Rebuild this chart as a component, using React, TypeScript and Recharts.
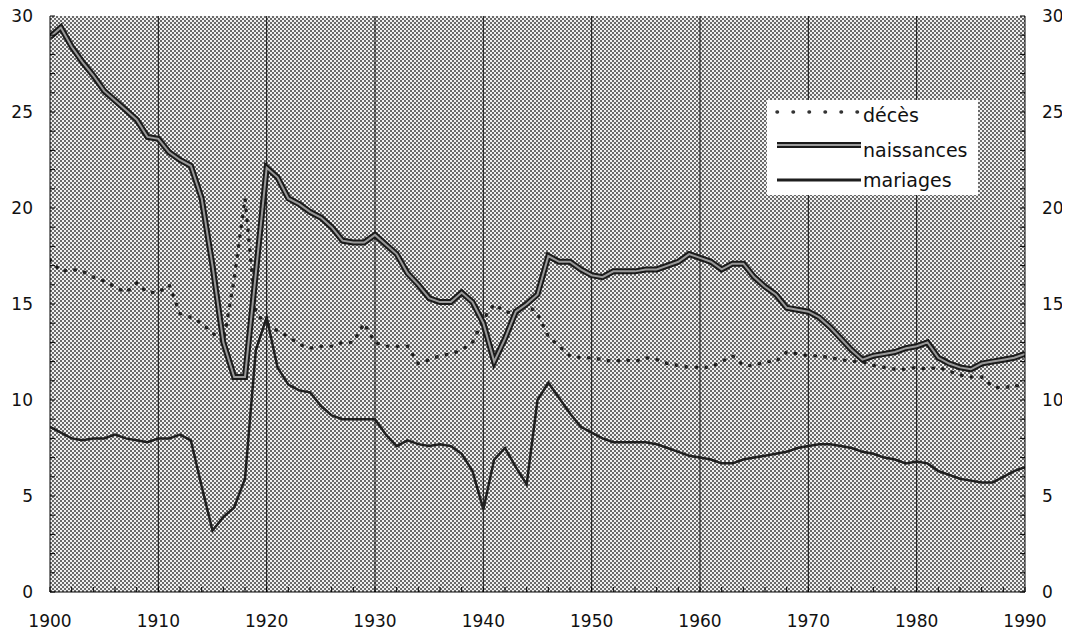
import React from 'react';
import { LineChart, Line, XAxis, YAxis, CartesianGrid, ReferenceLine, Legend } from 'recharts';

// years 1900..1990
const years = Array.from({ length: 91 }, (_, i) => 1900 + i);

// taux pour 1000 habitants
const naissances = [
  28.9, 29.4, 28.4, 27.6, 26.9, 26.1, 25.6, 25.1, 24.6, 23.7,
  23.6, 22.9, 22.5, 22.2, 20.5, 17.0, 13.0, 11.2, 11.2, 16.6,
  22.1, 21.6, 20.5, 20.2, 19.8, 19.5, 19.0, 18.3, 18.2, 18.2,
  18.6, 18.1, 17.6, 16.6, 16.0, 15.3, 15.1, 15.1, 15.6, 15.1,
  14.0, 12.0, 13.2, 14.6, 15.0, 15.5, 17.5, 17.2, 17.2, 16.8,
  16.5, 16.4, 16.7, 16.7, 16.7, 16.8, 16.8, 17.0, 17.2, 17.6,
  17.4, 17.2, 16.8, 17.1, 17.1, 16.4, 15.9, 15.5, 14.8, 14.7,
  14.6, 14.3, 13.8, 13.2, 12.6, 12.1, 12.3, 12.4, 12.5, 12.7,
  12.8, 13.0, 12.2, 11.9, 11.7, 11.6, 11.9, 12.0, 12.1, 12.2,
  12.4,
];

const deces = [
  17.3, 16.7, 16.8, 16.7, 16.4, 16.2, 15.9, 15.6, 16.1, 15.6,
  15.6, 16.0, 14.5, 14.3, 14.0, 13.5, 13.0, 16.3, 20.5, 14.5,
  14.0, 13.6, 13.3, 12.9, 12.7, 12.8, 12.8, 13.0, 13.0, 14.0,
  13.0, 12.8, 12.8, 12.8, 11.9, 12.1, 12.3, 12.4, 12.6, 13.0,
  14.2, 15.0, 14.6, 14.5, 15.0, 14.5, 13.3, 12.8, 12.3, 12.2,
  12.2, 12.1, 12.0, 12.1, 12.0, 12.2, 12.1, 11.9, 11.8, 11.7,
  11.7, 11.7, 12.0, 12.3, 11.8, 11.8, 12.0, 12.0, 12.5, 12.4,
  12.3, 12.3, 12.2, 12.1, 12.0, 12.0, 11.8, 11.7, 11.6, 11.6,
  11.7, 11.6, 11.7, 11.5, 11.3, 11.2, 11.2, 10.7, 10.6, 10.8,
  10.6,
];

const mariages = [
  8.6, 8.3, 8.0, 7.9, 8.0, 8.0, 8.2, 8.0, 7.9, 7.8,
  8.0, 8.0, 8.2, 7.9, 5.5, 3.2, 3.9, 4.4, 5.9, 12.6,
  14.3, 11.7, 10.8, 10.5, 10.4, 9.7, 9.2, 9.0, 9.0, 9.0,
  9.0, 8.2, 7.6, 7.9, 7.7, 7.6, 7.7, 7.6, 7.2, 6.3,
  4.3, 6.9, 7.5, 6.5, 5.6, 10.0, 10.9, 10.1, 9.3, 8.6,
  8.3, 8.0, 7.8, 7.8, 7.8, 7.8, 7.7, 7.5, 7.3, 7.1,
  7.0, 6.9, 6.7, 6.7, 6.9, 7.0, 7.1, 7.2, 7.3, 7.5,
  7.6, 7.7, 7.7, 7.6, 7.5, 7.3, 7.2, 7.0, 6.9, 6.7,
  6.8, 6.7, 6.3, 6.1, 5.9, 5.8, 5.7, 5.7, 6.0, 6.3,
  6.5,
];

const decades = [1910, 1920, 1930, 1940, 1950, 1960, 1970, 1980];
const yearTicks = Array.from({ length: 46 }, (_, i) => 1900 + i * 2);
const rateTicks = Array.from({ length: 31 }, (_, i) => i);
const legendNames = ['décès', 'naissances', 'mariages'];

const data = years.map((year, i) => ({
  year,
  deces: deces[i],
  naissances: naissances[i],
  mariages: mariages[i],
}));

const FONT = '"DejaVu Sans", sans-serif';
const tickStyle = { fontSize: 17, fill: '#111', fontFamily: FONT };
const yearLabel = (v: number) => (v % 10 === 0 ? String(v) : '');
const rateLabel = (v: number) => (v % 5 === 0 ? String(v) : '');

const LegendBox = () => (
  <svg width={211} height={95} style={{ display: 'block' }}>
    <rect x={0} y={0} width={211} height={95} fill="#fff" />
    <line x1={10} y1={12} x2={94} y2={12} stroke="#333" strokeWidth={3.5}
      strokeDasharray="0.5 15.5" strokeLinecap="round" />
    <line x1={10} y1={45} x2={94} y2={45} stroke="#1a1a1a" strokeWidth={6} />
    <line x1={10} y1={45} x2={94} y2={45} stroke="#9a9a9a" strokeWidth={2} />
    <line x1={10} y1={80} x2={94} y2={80} stroke="#1e1e1e" strokeWidth={3} />
    {legendNames.map((name, i) => (
      <text key={name} x={96} y={[22, 57, 87][i]} fontFamily={FONT} fontSize={19} fill="#111">
        {name}
      </text>
    ))}
  </svg>
);

export default function App() {
  return (
    <div style={{ width: 1062, height: 628, marginTop: -8 }}>
      <LineChart
        width={1062}
        height={636}
        data={data}
        margin={{ top: 16, right: 0, bottom: 0, left: 0 }}
        style={{ fontFamily: FONT }}
      >
        <defs>
          <pattern id="dither" width={4} height={4} patternUnits="userSpaceOnUse">
            <rect width={4} height={4} fill="#f0f0f0" />
            <rect x={0} y={0} width={2} height={2} fill="#6a6a6a" />
            <rect x={2} y={2} width={2} height={2} fill="#6a6a6a" />
          </pattern>
        </defs>
        <CartesianGrid horizontal={false} vertical={false} fill="url(#dither)" fillOpacity={1} />
        <XAxis
          dataKey="year"
          type="number"
          domain={[1900, 1990]}
          ticks={yearTicks}
          interval={0}
          tickFormatter={yearLabel}
          tick={tickStyle}
          tickSize={-5}
          tickMargin={28}
          height={44}
          axisLine={{ stroke: '#000' }}
          tickLine={{ stroke: '#000' }}
          allowDataOverflow
        />
        <XAxis
          xAxisId="top"
          orientation="top"
          dataKey="year"
          type="number"
          domain={[1900, 1990]}
          ticks={yearTicks}
          interval={0}
          tickFormatter={() => ''}
          tickSize={-5}
          height={0}
          axisLine={{ stroke: '#000' }}
          tickLine={{ stroke: '#000' }}
          allowDataOverflow
        />
        <YAxis
          yAxisId="left"
          type="number"
          domain={[0, 30]}
          ticks={rateTicks}
          interval={0}
          tickFormatter={rateLabel}
          tick={tickStyle}
          tickSize={-5}
          tickMargin={22}
          width={42}
          axisLine={{ stroke: '#000' }}
          tickLine={{ stroke: '#000' }}
          allowDataOverflow
        />
        <YAxis
          yAxisId="right"
          orientation="right"
          type="number"
          domain={[0, 30]}
          ticks={rateTicks}
          interval={0}
          tickFormatter={rateLabel}
          tick={tickStyle}
          tickSize={-5}
          tickMargin={22}
          width={45}
          axisLine={{ stroke: '#000' }}
          tickLine={{ stroke: '#000' }}
          allowDataOverflow
        />
        {decades.map((d) => (
          <ReferenceLine key={d} x={d} yAxisId="left" stroke="#111" strokeWidth={1} />
        ))}
        <Line
          yAxisId="left"
          dataKey="deces"
          stroke="#222"
          strokeWidth={3.5}
          strokeDasharray="0.5 9.5"
          strokeLinecap="round"
          dot={false}
          type="linear"
          isAnimationActive={false}
        />
        <Line
          yAxisId="right"
          dataKey="mariages"
          stroke="#1e1e1e"
          strokeWidth={2.5}
          dot={false}
          type="linear"
          isAnimationActive={false}
        />
        <Line
          yAxisId="left"
          dataKey="naissances"
          stroke="#1a1a1a"
          strokeWidth={6}
          dot={false}
          type="linear"
          isAnimationActive={false}
        />
        <Line
          yAxisId="left"
          xAxisId="top"
          dataKey="naissances"
          stroke="#9a9a9a"
          strokeWidth={2}
          dot={false}
          type="linear"
          legendType="none"
          isAnimationActive={false}
        />
        <Legend
          layout="horizontal"
          verticalAlign="middle"
          align="center"
          content={() => <LegendBox />}
          wrapperStyle={{ position: 'absolute', left: 759, top: 100, width: 211, height: 95 }}
        />
      </LineChart>
    </div>
  );
}
